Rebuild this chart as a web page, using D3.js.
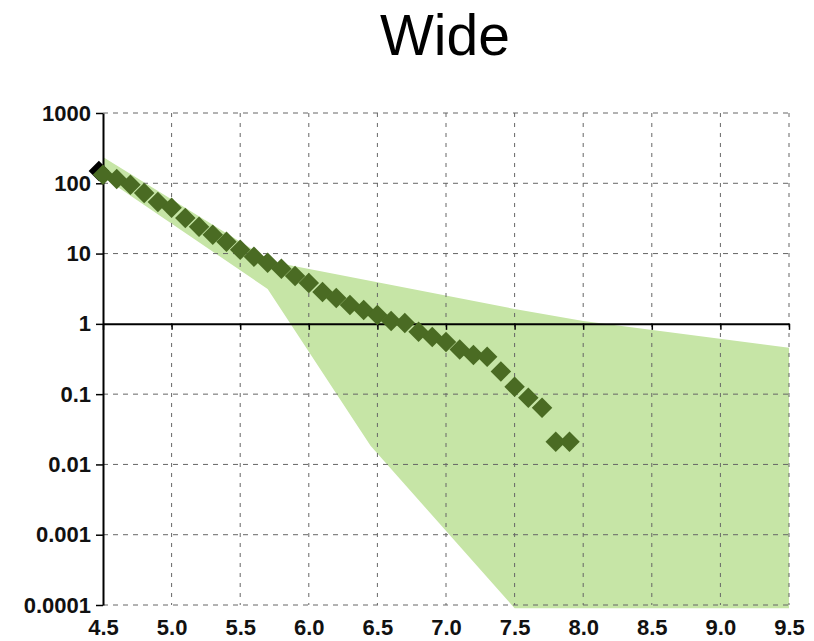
<!DOCTYPE html>
<html>
<head>
<meta charset="utf-8">
<script src="https://cdn.jsdelivr.net/npm/d3@7"></script>
<style>
  body { margin: 0; background: white; }
  .tick text { font-family: "Liberation Sans", Arial, sans-serif; font-weight: bold; font-size: 22px; fill: #111; }
</style>
</head>
<body>
<div id="container"></div>
<script>
let w = 814;
let h = 641;

// tick values
let xTicks = [4.5, 5.0, 5.5, 6.0, 6.5, 7.0, 7.5, 8.0, 8.5, 9.0, 9.5];
let xTickLabels = ["4.5", "5.0", "5.5", "6.0", "6.5", "7.0", "7.5", "8.0", "8.5", "9.0", "9.5"];
let yTicks = [0.0001, 0.001, 0.01, 0.1, 1, 10, 100, 1000];
let yTickLabels = ["0.0001", "0.001", "0.01", "0.1", "1", "10", "100", "1000"];

// measured points (green diamonds)
let ptX = [4.5, 4.6, 4.7, 4.8, 4.9, 5.0, 5.1, 5.2, 5.3, 5.4, 5.5, 5.6, 5.7, 5.8, 5.9,
  6.0, 6.1, 6.2, 6.3, 6.4, 6.5, 6.6, 6.7, 6.8, 6.9, 7.0, 7.1, 7.2, 7.3, 7.4,
  7.5, 7.6, 7.7, 7.8, 7.9];
let ptY = [132, 115, 95, 73, 54, 45, 32, 24, 18.5, 14.7, 11.3, 9.0, 7.4, 6.1, 4.8,
  3.8, 2.85, 2.34, 1.86, 1.58, 1.34, 1.10, 1.03, 0.77, 0.65, 0.55, 0.43, 0.36, 0.34, 0.21,
  0.127, 0.089, 0.064, 0.021, 0.021];

// single black point
let blackX = [4.47];
let blackY = [150];

// shaded band
let bandUpperX = [4.5, 5.74, 7.5, 8.0, 9.5];
let bandUpperY = [237, 7.6, 1.63, 1.1, 0.456];
let bandLowerX = [4.5, 5.7, 6.45, 7.5, 9.5];
let bandLowerY = [123, 3.14, 0.0184, 0.00009, 0.00009];

let mLeft = 103, mRight = 789, mTop = 113, mBottom = 605;

let x = d3.scaleLinear().domain([4.5, 9.5]).range([mLeft, mRight]);
let y = d3.scaleLog().domain([0.0001, 1000]).range([mBottom, mTop]);

let viz = d3.select("#container")
  .append("svg")
  .attr("width", w)
  .attr("height", h)
  .style("background-color", "white");

// title
viz.append("text")
  .attr("x", 445)
  .attr("y", 55)
  .attr("text-anchor", "middle")
  .style("font-family", "Liberation Sans, Arial, sans-serif")
  .style("font-size", "57px")
  .text("Wide");

// band
let bandPts = [];
for (let i = 0; i < bandUpperX.length; i++) bandPts.push([bandUpperX[i], bandUpperY[i]]);
for (let i = bandLowerX.length - 1; i >= 0; i--) bandPts.push([bandLowerX[i], bandLowerY[i]]);

viz.append("path")
  .attr("d", d3.line().x(d => x(d[0])).y(d => y(d[1]))(bandPts) + "Z")
  .attr("fill", "#c6e5a6");

// grid
let grid = viz.append("g").attr("class", "grid");
grid.selectAll(".hgrid")
  .data(yTicks.filter(d => d != 1))
  .enter()
  .append("line")
  .attr("x1", mLeft)
  .attr("x2", mRight)
  .attr("y1", d => y(d))
  .attr("y2", d => y(d))
  .attr("stroke", "#666")
  .attr("stroke-width", 1)
  .attr("stroke-dasharray", "5,5");

grid.selectAll(".vgrid")
  .data(xTicks.slice(1))
  .enter()
  .append("line")
  .attr("x1", d => x(d))
  .attr("x2", d => x(d))
  .attr("y1", mTop)
  .attr("y2", mBottom)
  .attr("stroke", "#666")
  .attr("stroke-width", 1)
  .attr("stroke-dasharray", "4,6");

// horizontal axis crossing at 1
let midAxis = viz.append("g")
  .attr("transform", "translate(0," + y(1) + ")")
  .call(d3.axisBottom(x).tickValues(xTicks).tickSize(6).tickSizeOuter(0).tickFormat(""));
midAxis.select(".domain").attr("stroke", "#000").attr("stroke-width", 2);
midAxis.selectAll(".tick line").attr("stroke", "#000").attr("stroke-width", 1.5);

// x labels at bottom
let xAxis = viz.append("g")
  .attr("transform", "translate(0," + mBottom + ")")
  .call(d3.axisBottom(x).tickValues(xTicks).tickSize(0).tickPadding(14)
    .tickFormat((d, i) => xTickLabels[i]));
xAxis.select(".domain").remove();

// y axis
let yAxis = viz.append("g")
  .attr("transform", "translate(" + mLeft + ",0)")
  .call(d3.axisLeft(y).tickValues(yTicks).tickSize(7).tickSizeOuter(0).tickPadding(5)
    .tickFormat((d, i) => yTickLabels[i]));
yAxis.select(".domain").attr("stroke", "#000").attr("stroke-width", 2);
yAxis.selectAll(".tick line").attr("stroke", "#000").attr("stroke-width", 1.5);

// points
let diamond = d3.symbol().type(d3.symbolSquare).size(210);

viz.selectAll(".blackpt")
  .data(blackX)
  .enter()
  .append("path")
  .attr("d", diamond)
  .attr("transform", (d, i) => "translate(" + x(d) + "," + y(blackY[i]) + ") rotate(45)")
  .attr("fill", "#000");

viz.selectAll(".pt")
  .data(ptX)
  .enter()
  .append("path")
  .attr("d", diamond)
  .attr("transform", (d, i) => "translate(" + x(d) + "," + y(ptY[i]) + ") rotate(45)")
  .attr("fill", "#4a6b23");
</script>
</body>
</html>
